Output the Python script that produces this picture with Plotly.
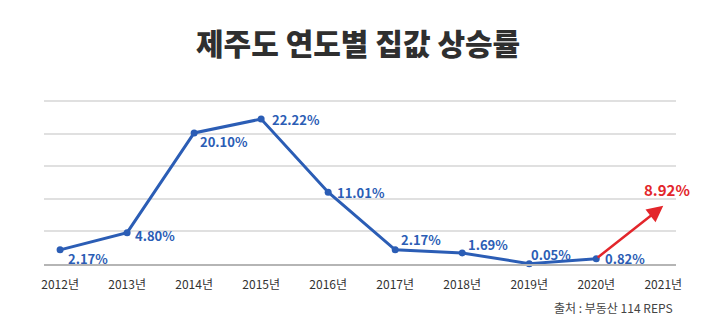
import plotly.graph_objects as go

# Annual housing price growth in Jeju (%)
years = ["2012년", "2013년", "2014년", "2015년", "2016년", "2017년", "2018년", "2019년", "2020년", "2021년"]
growth = [2.17, 4.80, 20.10, 22.22, 11.01, 2.17, 1.69, 0.05, 0.82]
latest_growth = 8.92
label_text = ["2.17%", "4.80%", "20.10%", "22.22%", "11.01%", "2.17%", "1.69%", "0.05%", "0.82%"]
latest_label = "8.92%"
y_ticks = [0, 5, 10, 15, 20, 25]

FONT = "Noto Sans CJK KR"
BLUE = "#2b5db5"
RED = "#e3262b"

x_idx = list(range(len(years)))
hist_x = x_idx[:len(growth)]

L, R, T, B = 44, 44, 101, 67
W, H = 720, 331


def px_to_paper(px, py):
    return (px - L) / (W - L - R), (H - B - py) / (H - T - B)


fig = go.Figure()

fig.add_trace(go.Scatter(
    x=hist_x, y=growth, mode="lines+markers",
    line=dict(color=BLUE, width=3),
    marker=dict(color=BLUE, size=7),
    cliponaxis=False, hoverinfo="skip", showlegend=False,
))

# label offsets (px) relative to each point
offsets = [(6, -9), (6, -3), (4, -9), (9, 0), (7, 0), (4, 10), (4, 8), (0, 9), (7, 0)]
for xi, yv, txt, (dx, dy) in zip(hist_x, growth, label_text, offsets):
    fig.add_annotation(
        x=xi, y=yv, text=f"<b>{txt}</b>", showarrow=False,
        xanchor="left", yanchor="middle", xshift=dx, yshift=dy,
        font=dict(family=FONT, size=13, color=BLUE),
    )

# red arrow from 2020 to 2021
fig.add_annotation(
    x=x_idx[-1], y=latest_growth, ax=hist_x[-1], ay=growth[-1],
    xref="x", yref="y", axref="x", ayref="y",
    text="", showarrow=True, arrowhead=2, arrowsize=1.3, arrowwidth=2.5,
    arrowcolor=RED, standoff=0,
)
fig.add_annotation(
    x=x_idx[-1], y=latest_growth, text=f"<b>{latest_label}</b>", showarrow=False,
    xanchor="center", yanchor="bottom", xshift=4, yshift=4,
    font=dict(family=FONT, size=15, color=RED),
)

# title and source
tx, ty = px_to_paper(358, 45)
fig.add_annotation(
    x=tx, y=ty, xref="paper", yref="paper", text="제주도 연도별 집값 상승률",
    showarrow=False, xanchor="center", yanchor="middle",
    font=dict(family=FONT, size=30, color="#2f2f2f", weight=900),
)
sx, sy = px_to_paper(675, 307)
fig.add_annotation(
    x=sx, y=sy, xref="paper", yref="paper", text="출처 : 부동산 114 REPS",
    showarrow=False, xanchor="right", yanchor="middle",
    font=dict(family=FONT, size=12, color="#444444"),
)

fig.update_layout(
    width=W, height=H,
    margin=dict(l=L, r=R, t=T - 2, b=B),
    paper_bgcolor="white", plot_bgcolor="white",
    font=dict(family=FONT),
    xaxis=dict(
        range=[-0.24, 9.19], tickmode="array", tickvals=x_idx, ticktext=years,
        showgrid=False, zeroline=False, showline=True, linecolor="#b5b5b5", linewidth=1.5,
        tickfont=dict(family=FONT, size=12, color="#333333"), ticks="", ticklabelstandoff=9,
        fixedrange=True,
    ),
    yaxis=dict(
        range=[0, 25.3], tickvals=y_ticks, showticklabels=False,
        showgrid=True, gridcolor="#e0e0e0", gridwidth=1.5, zeroline=False,
        fixedrange=True,
    ),
)

fig.write_html("out.html")
